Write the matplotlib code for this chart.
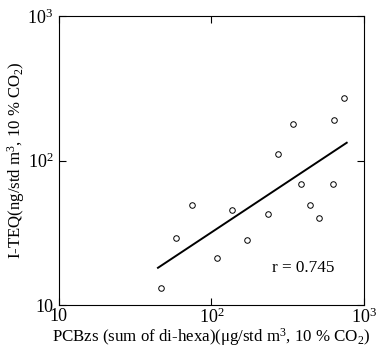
import matplotlib
matplotlib.use("Agg")
import matplotlib.pyplot as plt

plt.rcParams['font.family'] = ['Liberation Serif', 'DejaVu Serif']
plt.rcParams['mathtext.fontset'] = 'custom'
plt.rcParams['mathtext.rm'] = 'Liberation Serif'
plt.rcParams['mathtext.it'] = 'Liberation Serif:italic'

# data
pcb = [46.7, 58.5, 74.8, 109, 137, 172, 234, 274, 341, 385, 443, 510, 626, 636, 743]
teq = [13.1, 29.2, 49.2, 21.1, 45.4, 28.0, 42.4, 111, 180, 68.4, 49.2, 40.2, 68.4, 190, 272]
fit_x = [44.6, 770]
fit_y = [18.1, 132.8]

fig = plt.figure(figsize=(3.8, 3.49), dpi=100)
ax = fig.add_axes([0.155, 0.126, 0.803, 0.828])

ax.plot(pcb, teq, linestyle="none", marker="o", markersize=4, markerfacecolor="white",
        markeredgecolor="black", markeredgewidth=0.7)
ax.plot(fit_x, fit_y, color="black", linewidth=1.4)

ax.set_xscale("log")
ax.set_yscale("log")
ax.set_xlim(10, 1000)
ax.set_ylim(10, 1000)
ax.set_xticks([10, 100, 1000])
ax.set_xticklabels(["10", "$10^2$", "$10^3$"])
ax.set_yticks([10, 100, 1000])
ax.set_yticklabels(["10", "$10^2$", "$10^3$"])
ax.minorticks_off()
ax.tick_params(direction="in", length=5, width=0.8, top=True, right=True, labelsize=13, pad=4)
ax.tick_params(axis="x", pad=2)

ax.text(0.70, 0.115, "r = 0.745", transform=ax.transAxes, fontsize=12.3)

ax.set_xlabel("PCBzs (sum of di-hexa)(\u03bcg/std m$^3$, 10 % CO$_2$)", fontsize=12.2, labelpad=-1)
ax.set_ylabel("I-TEQ(ng/std m$^3$, 10 % CO$_2$)", fontsize=12.1, labelpad=0)

fig.savefig("out.png", dpi=100)
